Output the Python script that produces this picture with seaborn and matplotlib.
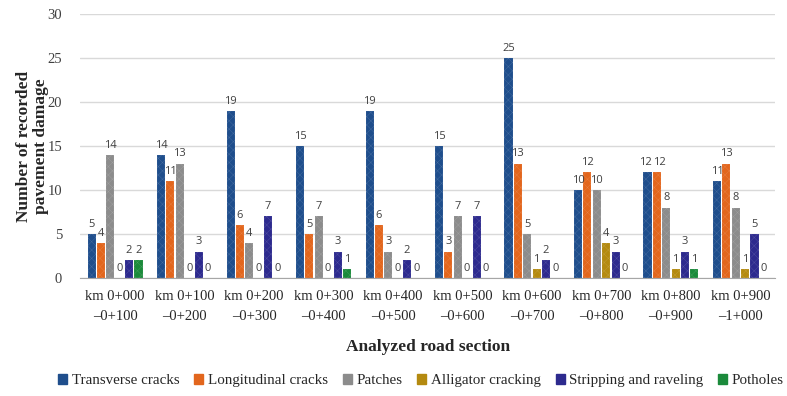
import pandas as pd
import matplotlib.pyplot as plt
import seaborn as sns

# --- Data ---
sections = ['km 0+000\n–0+100', 'km 0+100\n–0+200', 'km 0+200\n–0+300', 'km 0+300\n–0+400',
            'km 0+400\n–0+500', 'km 0+500\n–0+600', 'km 0+600\n–0+700', 'km 0+700\n–0+800',
            'km 0+800\n–0+900', 'km 0+900\n–1+000']
transverse = [5, 14, 19, 15, 19, 15, 25, 10, 12, 11]
longitudinal = [4, 11, 6, 5, 6, 3, 13, 12, 12, 13]
patches = [14, 13, 4, 7, 3, 7, 5, 10, 8, 8]
alligator = [0, 0, 0, 0, 0, 0, 1, 4, 1, 1]
stripping = [2, 3, 7, 3, 2, 7, 2, 3, 3, 5]
potholes = [2, 0, 0, 1, 0, 0, 0, 0, 1, 0]

damage_types = ['Transverse cracks', 'Longitudinal cracks', 'Patches',
                'Alligator cracking', 'Stripping and raveling', 'Potholes']
colors = ['#1F4E8C', '#E2661D', '#8C8C8C', '#B48A10', '#2D2A8E', '#1B8A3B']

series = [transverse, longitudinal, patches, alligator, stripping, potholes]
rows = []
for name, vals in zip(damage_types, series):
    for sec, v in zip(sections, vals):
        rows.append({'Section': sec, 'Damage': name, 'Count': v})
df = pd.DataFrame(rows)

# --- Plot ---
sns.set_style('white')
plt.rcParams['font.family'] = ['Liberation Serif', 'DejaVu Serif']
plt.rcParams['hatch.linewidth'] = 0.3

fig = plt.figure(figsize=(7.87, 3.96), dpi=100)
ax = fig.add_axes([0.102, 0.298, 0.883, 0.667])

sns.barplot(data=df, x='Section', y='Count', hue='Damage', hue_order=damage_types,
            palette=colors, width=0.81, gap=0.14, saturation=1, errorbar=None,
            legend=False, ax=ax)

labels = []
for cont, col in zip(ax.containers, colors):
    for bar in cont:
        bar.set_hatch('xxxx')
        bar.set_edgecolor((1, 1, 1, 0.18))
        bar.set_linewidth(0.3)
    labels.append(ax.bar_label(cont, fmt='%d', padding=3, fontsize=8, color='#404040',
                               family=['Open Sans', 'DejaVu Sans']))

ax.set_ylim(0, 30)
ax.set_yticks(range(0, 31, 5))
ax.yaxis.grid(True, color='#D9D9D9', linewidth=1)
ax.set_axisbelow(True)
for s in ['top', 'right', 'left']:
    ax.spines[s].set_visible(False)
ax.spines['bottom'].set_color('#A6A6A6')
ax.tick_params(axis='y', length=0, pad=13, labelsize=10.5, labelcolor='#404040')
ax.tick_params(axis='x', length=0, pad=9, labelsize=10.5, labelcolor='#262626')
for t in ax.get_xticklabels():
    t.set_linespacing(1.7)

ax.set_xlabel('Analyzed road section', fontsize=12.5, fontweight='bold', labelpad=11)
ax.set_ylabel('Number of recorded\npavement damage', fontsize=12.5, fontweight='bold',
              linespacing=1.1)
ax.yaxis.set_label_coords(-0.045, 0.5)

handles = [plt.Rectangle((0, 0), 1, 1, color=c) for c in colors]
fig.legend(handles, damage_types, loc='center', bbox_to_anchor=(0.535, 0.038), ncol=6,
           frameon=False, fontsize=10.8, handlelength=0.6, handleheight=0.6,
           handletextpad=0.3, columnspacing=1.0)

# push apart neighbouring value labels that collide (like Excel does)
fig.canvas.draw()
r = fig.canvas.get_renderer()
for g in range(len(sections)):
    for k in range(1, len(damage_types)):
        a, b = labels[k - 1][g], labels[k][g]
        ba, bb = a.get_window_extent(r), b.get_window_extent(r)
        overlap = ba.x1 - bb.x0 + 1
        if overlap > 0 and ba.y0 < bb.y1 and bb.y0 < ba.y1:
            shift = overlap / 2 * 72 / fig.dpi
            a.xyann = (a.xyann[0] - shift, a.xyann[1])
            b.xyann = (b.xyann[0] + shift, b.xyann[1])

plt.savefig('out.png', dpi=100)
